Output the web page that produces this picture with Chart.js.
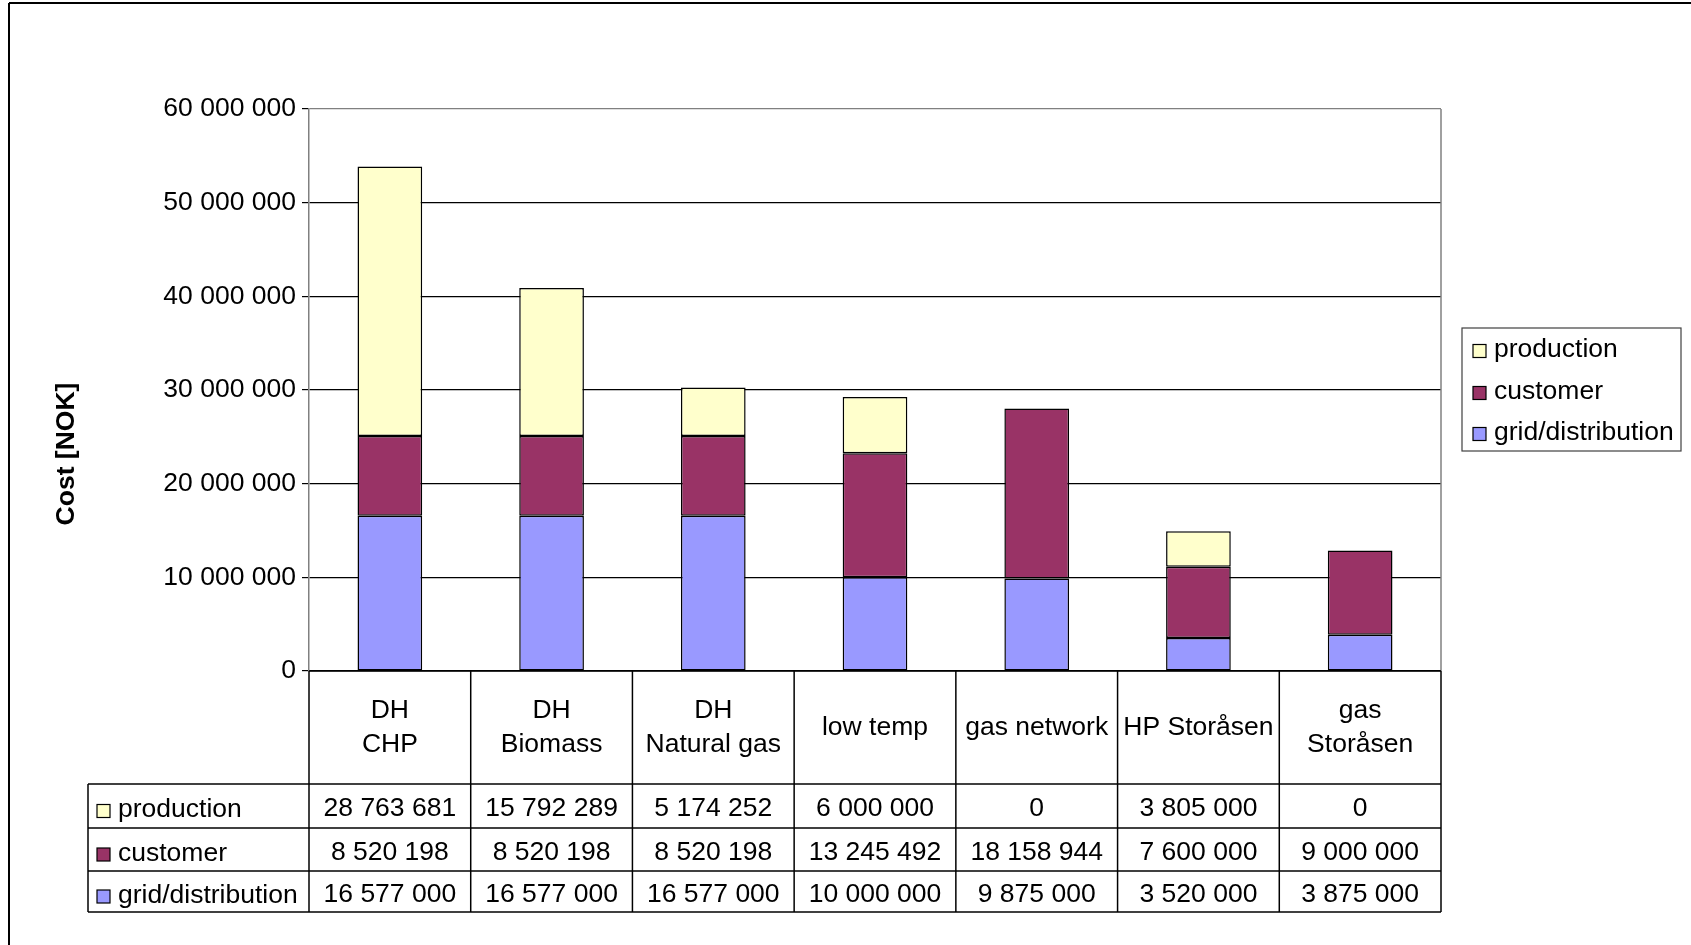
<!DOCTYPE html>
<html>
<head>
<meta charset="utf-8">
<script src="https://cdn.jsdelivr.net/npm/chart.js@4.4.0/dist/chart.umd.min.js"></script>
<style>
    body { margin: 0; background: #fff; }
    #wrap { width: 1691px; height: 945px; }
</style>
</head>
<body>
<div id="wrap"><canvas id="costChart" width="1691" height="945"></canvas></div>
<script>
// Cost chart - stacked bars with a data table underneath

// category labels, split into the lines shown in the table header
const categories = [['DH', 'CHP'], ['DH', 'Biomass'], ['DH', 'Natural gas'], ['low temp'], ['gas network'], ['HP Storåsen'], ['gas', 'Storåsen']];
const production = [28763681, 15792289, 5174252, 6000000, 0, 3805000, 0];
const customer = [8520198, 8520198, 8520198, 13245492, 18158944, 7600000, 9000000];
const gridDistribution = [16577000, 16577000, 16577000, 10000000, 9875000, 3520000, 3875000];
const yMax = 60000000;
const yStep = 10000000;

const FONT = "'Liberation Sans', Arial, sans-serif";
const FONT_SIZE = 26.5;

// rows of the legend and table, top to bottom
const rows = [
    { name: 'production', values: production, color: '#FFFFCC' },
    { name: 'customer', values: customer, color: '#993366' },
    { name: 'grid/distribution', values: gridDistribution, color: '#9999FF' }
];

function formatNumber(n) {
    return String(n).replace(/\B(?=(\d{3})+(?!\d))/g, ' ');
}

function drawSwatch(ctx, x, y, color) {
    ctx.fillStyle = color;
    ctx.fillRect(x, y - 6.5, 13, 13);
    ctx.strokeStyle = '#000';
    ctx.lineWidth = 1.2;
    ctx.strokeRect(x, y - 6.5, 13, 13);
}

function line(ctx, x1, y1, x2, y2) {
    ctx.beginPath();
    ctx.moveTo(x1, y1);
    ctx.lineTo(x2, y2);
    ctx.stroke();
}

const extrasPlugin = {
    id: 'extras',
    afterDraw(chart) {
        const ctx = chart.ctx;
        const area = chart.chartArea;
        const xScale = chart.scales.x;
        const half = (xScale.getPixelForValue(1) - xScale.getPixelForValue(0)) / 2;

        ctx.save();

        // right border of the plot area
        ctx.strokeStyle = '#808080';
        ctx.lineWidth = 1.5;
        line(ctx, area.right, area.top, area.right, area.bottom);

        // zero line
        ctx.strokeStyle = '#000';
        ctx.lineWidth = 1.5;
        line(ctx, area.left, area.bottom, area.right, area.bottom);

        // data table
        const tableLeft = 88;
        const rowLines = [784, 828, 871, 912];
        ctx.lineWidth = 1.5;
        rowLines.forEach(y => line(ctx, tableLeft, y, area.right, y));
        line(ctx, tableLeft, rowLines[0], tableLeft, rowLines[3]);
        for (let i = 0; i <= categories.length; i++) {
            const x = i === categories.length ? area.right : xScale.getPixelForValue(i) - half;
            line(ctx, x, area.bottom, x, rowLines[3]);
        }

        ctx.fillStyle = '#000';
        ctx.font = `${FONT_SIZE}px ${FONT}`;
        ctx.textAlign = 'center';
        ctx.textBaseline = 'middle';

        // header labels
        const headerMid = (area.bottom + rowLines[0]) / 2;
        categories.forEach((lines, i) => {
            const cx = xScale.getPixelForValue(i);
            const start = headerMid - (lines.length - 1) * 33.5 / 2;
            lines.forEach((txt, j) => ctx.fillText(txt, cx, start + j * 33.5));
        });

        // value rows
        const rowTops = [area.bottom].concat(rowLines);
        rows.forEach((row, r) => {
            const cy = (rowTops[r + 1] + rowTops[r + 2]) / 2 + 3;
            ctx.textAlign = 'center';
            ctx.fillStyle = '#000';
            row.values.forEach((v, i) => {
                ctx.fillText(formatNumber(v), xScale.getPixelForValue(i), cy);
            });
            drawSwatch(ctx, 97, cy + 2, row.color);
            ctx.fillStyle = '#000';
            ctx.textAlign = 'left';
            ctx.fillText(row.name, 118, cy + 1);
        });

        // legend box
        ctx.strokeStyle = '#404040';
        ctx.lineWidth = 1.2;
        ctx.strokeRect(1462, 328, 219, 123);
        const legendY = [350, 392, 433];
        rows.forEach((row, r) => {
            drawSwatch(ctx, 1473, legendY[r] + 1, row.color);
            ctx.fillStyle = '#000';
            ctx.textAlign = 'left';
            ctx.fillText(row.name, 1494, legendY[r]);
        });

        // y axis title
        ctx.save();
        ctx.translate(67, 454);
        ctx.rotate(-Math.PI / 2);
        ctx.font = `bold ${FONT_SIZE}px ${FONT}`;
        ctx.textAlign = 'center';
        ctx.fillText('Cost [NOK]', 0, 0);
        ctx.restore();

        // outer frame
        ctx.strokeStyle = '#000';
        ctx.lineWidth = 2;
        line(ctx, 9, 3, 1691, 3);
        line(ctx, 9, 3, 9, 945);

        ctx.restore();
    }
};

const datasets = rows.slice().reverse().map(row => ({
    label: row.name,
    data: row.values,
    backgroundColor: row.color,
    borderColor: '#000',
    borderWidth: 1.5,
    borderSkipped: false,
    categoryPercentage: 1,
    barPercentage: 0.4
}));

new Chart(document.getElementById('costChart'), {
    type: 'bar',
    data: {
        labels: categories.map(c => c.join(' ')),
        datasets: datasets
    },
    options: {
        responsive: false,
        animation: false,
        layout: {
            padding: { left: 0, right: 250, top: 109, bottom: 274 }
        },
        plugins: {
            legend: { display: false },
            tooltip: { enabled: false }
        },
        scales: {
            x: {
                stacked: true,
                display: false
            },
            y: {
                stacked: true,
                min: 0,
                max: yMax,
                afterFit(scale) {
                    scale.width = 309;
                },
                ticks: {
                    stepSize: yStep,
                    padding: 6,
                    color: '#000',
                    font: { family: FONT, size: FONT_SIZE },
                    callback: v => formatNumber(v)
                },
                grid: {
                    color: c => (c.tick && c.tick.value === yMax) ? '#808080' : '#000',
                    lineWidth: 1.2,
                    tickLength: 7,
                    tickColor: '#000'
                },
                border: {
                    color: '#808080',
                    width: 1.5
                }
            }
        }
    },
    plugins: [extrasPlugin]
});
</script>
</body>
</html>
